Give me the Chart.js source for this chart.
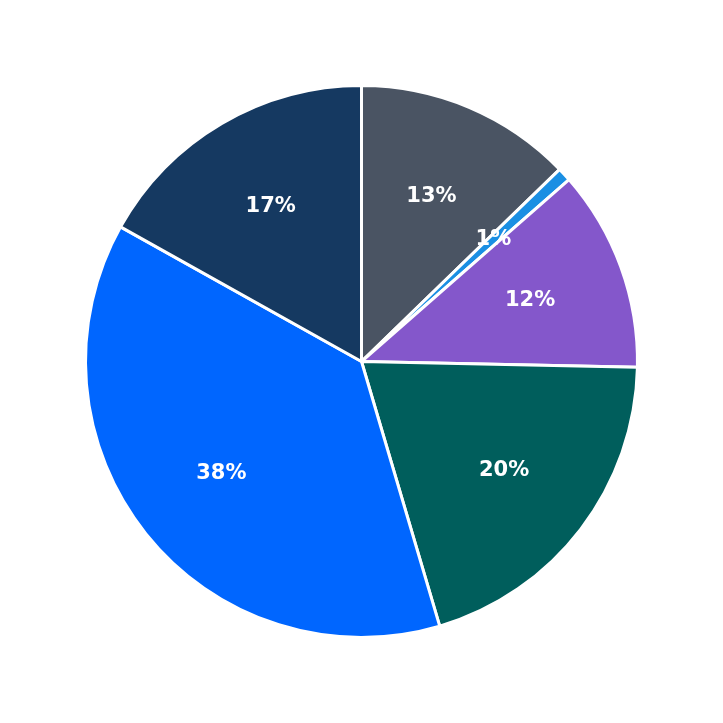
<!DOCTYPE html>
<html>
<head>
<meta charset="utf-8">
<script src="https://cdn.jsdelivr.net/npm/chart.js@4"></script>
<style>
  html, body { margin: 0; padding: 0; background: #fff; }
  #wrap { width: 723px; height: 723px; }
</style>
</head>
<body>
<div id="wrap"><canvas id="pie"></canvas></div>
<script>
const labels = ["A", "B", "C", "D", "E", "F"];
const values = [12.75, 0.8, 11.8, 20.1, 37.7, 16.9];
const shown = ["13%", "1%", "12%", "20%", "38%", "17%"];
const colors = ["#4a5463", "#1a8fe3", "#8457cb", "#005e5c", "#0066ff", "#153961"];

const sliceLabels = {
  id: "sliceLabels",
  afterDatasetsDraw(chart) {
    const ctx = chart.ctx;
    ctx.save();
    ctx.fillStyle = "#fff";
    ctx.font = "bold 21px 'DejaVu Sans'";
    ctx.textAlign = "center";
    ctx.textBaseline = "middle";
    chart.getDatasetMeta(0).data.forEach((arc, i) => {
      const mid = (arc.startAngle + arc.endAngle) / 2;
      const r = arc.outerRadius * 0.65;
      ctx.fillText(shown[i], arc.x + Math.cos(mid) * r, arc.y + Math.sin(mid) * r);
    });
    ctx.restore();
  }
};

new Chart(document.getElementById("pie"), {
  type: "pie",
  data: {
    labels,
    datasets: [{
      data: values,
      backgroundColor: colors,
      borderColor: "#fff",
      borderWidth: 3
    }]
  },
  options: {
    responsive: true,
    maintainAspectRatio: false,
    animation: false,
    layout: { padding: 84 },
    plugins: {
      legend: { display: false },
      tooltip: { enabled: false }
    }
  },
  plugins: [sliceLabels]
});
</script>
</body>
</html>
